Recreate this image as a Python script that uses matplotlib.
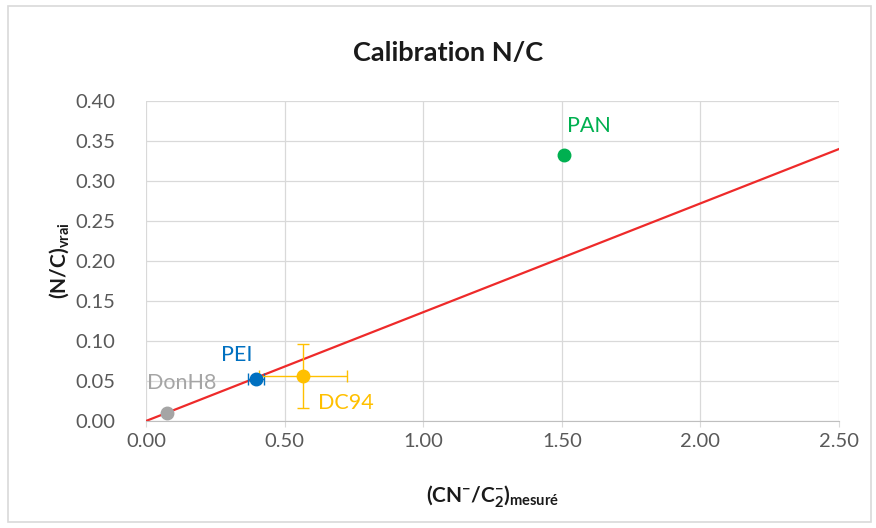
import matplotlib
matplotlib.use("Agg")
import numpy as np
import matplotlib.pyplot as plt
from matplotlib.patches import Rectangle

plt.rcParams['font.family'] = ['Lato', 'DejaVu Sans']
plt.rcParams['mathtext.default'] = 'regular'

# measured ratio vs true N/C per sample
names = ["DonH8", "PEI", "DC94", "PAN"]
x_meas = [0.076, 0.397, 0.566, 1.508]
y_true = [0.010, 0.053, 0.056, 0.333]
x_err = [0.0, 0.03, 0.16, 0.0]
y_err = [0.0, 0.0, 0.040, 0.0]
colors = ["#a5a5a5", "#0070c0", "#ffc000", "#00b050"]

# calibration line through origin
slope = 0.136
line_x = [0.0, 2.5]

x_ticks = [0.0, 0.5, 1.0, 1.5, 2.0, 2.5]
y_ticks = [0.0, 0.05, 0.10, 0.15, 0.20, 0.25, 0.30, 0.35, 0.40]

fig = plt.figure(figsize=(8.76, 5.28), dpi=100)
ax = fig.add_axes([0.1667, 0.2027, 0.7911, 0.6060])

fig.patches.append(Rectangle((0.009, 0.012), 0.985, 0.976, transform=fig.transFigure,
                             fill=False, edgecolor="#d9d9d9", linewidth=1.2))

ax.plot(line_x, [slope * v for v in line_x], color="#ee2a2a", linewidth=1.6, zorder=2)

for i in range(len(names)):
    if x_err[i] or y_err[i]:
        ax.errorbar(x_meas[i], y_true[i], xerr=x_err[i] or None, yerr=y_err[i] or None,
                    fmt="none", ecolor=colors[i], elinewidth=1, capsize=4, zorder=3)
    ax.plot(x_meas[i], y_true[i], "o", color=colors[i], markersize=9, zorder=4)

# label anchors (left edge x, centre y)
label_pos = {"DonH8": (0.005, 0.047), "PEI": (0.27, 0.083), "DC94": (0.62, 0.022), "PAN": (1.52, 0.369)}
for i, n in enumerate(names):
    lx, ly = label_pos[n]
    ax.text(lx, ly, n, color=colors[i], fontsize=15.5, ha="left", va="center", zorder=5)

ax.set_xlim(0, 2.5)
ax.set_ylim(0, 0.40)
ax.set_xticks(x_ticks)
ax.set_yticks(y_ticks)
ax.set_xticklabels(["%.2f" % v for v in x_ticks])
ax.set_yticklabels(["%.2f" % v for v in y_ticks])
ax.tick_params(axis="both", labelsize=14.5, colors="#595959", length=4, width=0.8, color="#d9d9d9")
ax.tick_params(axis="y", length=0, pad=22)
ax.tick_params(axis="x", pad=5)
ax.grid(True, color="#d9d9d9", linewidth=0.9)
ax.set_axisbelow(True)
for s in ["top", "right", "left"]:
    ax.spines[s].set_visible(False)
ax.spines["bottom"].set_color("#bfbfbf")

fig.text(0.511, 0.90, "Calibration N/C", fontsize=19.5, fontweight="bold", color="#1a1a1a",
         ha="center", va="center")
ax.set_xlabel("(CN$^{-}$/C$_{2}^{-}$)$_{mesuré}$", fontsize=15, fontweight="bold", color="#1a1a1a", labelpad=24)
ax.set_ylabel("(N/C)$_{vrai}$", fontsize=15, fontweight="bold", color="#1a1a1a", labelpad=3)

fig.savefig("out.png", dpi=100)
